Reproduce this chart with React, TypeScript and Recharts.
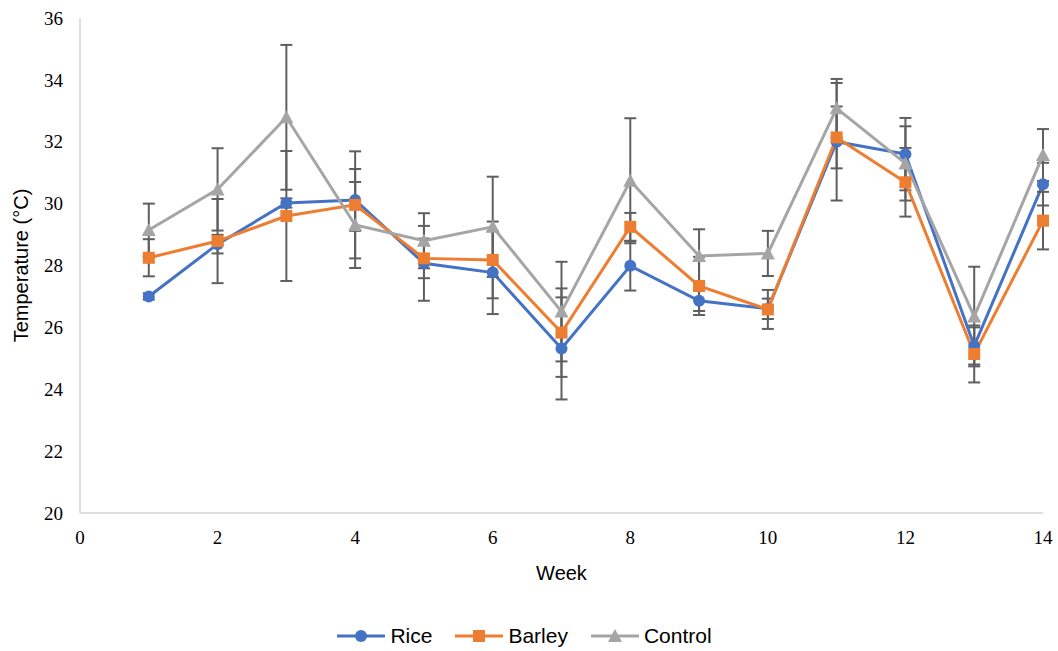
import { LineChart, Line, XAxis, YAxis, Legend, ErrorBar } from 'recharts';

const weeks = [1, 2, 3, 4, 5, 6, 7, 8, 9, 10, 11, 12, 13, 14];

const rice = [27.0, 28.69, 30.02, 30.12, 28.07, 27.77, 25.32, 27.99, 26.86, 26.6, 32.0, 31.6, 25.4, 30.63];
const riceErr = [0.1, 0.3, 0.15, 1.0, 1.21, 1.34, 1.65, 0.8, 0.33, 0.33, 1.9, 1.17, 0.6, 0.69];

const barley = [28.25, 28.79, 29.6, 29.96, 28.23, 28.18, 25.83, 29.25, 27.34, 26.58, 32.14, 30.69, 25.14, 29.45];
const barleyErr = [0.6, 1.36, 2.1, 1.73, 0.64, 1.24, 1.43, 0.45, 0.94, 0.63, 1.0, 1.11, 0.92, 0.93];

const control = [29.15, 30.46, 32.79, 29.31, 28.8, 29.25, 26.51, 30.74, 28.31, 28.39, 33.08, 31.3, 26.35, 31.57];
const controlErr = [0.85, 1.33, 2.34, 1.39, 0.89, 1.62, 1.61, 2.02, 0.86, 0.73, 0.95, 1.2, 1.61, 0.84];

const xTicks = [0, 2, 4, 6, 8, 10, 12, 14];
const yTicks = [20, 22, 24, 26, 28, 30, 32, 34, 36];

const data = weeks.map((w, i) => ({
  week: w,
  rice: rice[i],
  riceErr: riceErr[i],
  barley: barley[i],
  barleyErr: barleyErr[i],
  control: control[i],
  controlErr: controlErr[i],
}));

const BLUE = '#4472C4';
const ORANGE = '#ED7D31';
const GRAY = '#A5A5A5';
const ERR = '#5F5F5F';
const SANS = '"Liberation Sans", Arial, sans-serif';
const SERIF = '"Liberation Serif", "Times New Roman", serif';

type Shape = 'circle' | 'square' | 'triangle';

function marker(shape: Shape, cx: number, cy: number, color: string, key?: string) {
  if (shape === 'circle') return <circle key={key} cx={cx} cy={cy} r={6} fill={color} />;
  if (shape === 'square') return <rect key={key} x={cx - 6} y={cy - 6} width={12} height={12} fill={color} />;
  return <polygon key={key} points={`${cx},${cy - 7} ${cx + 7},${cy + 6} ${cx - 7},${cy + 6}`} fill={color} />;
}

const makeDot = (shape: Shape, color: string) => (props: any) =>
  marker(shape, props.cx, props.cy, color, `${shape}-${props.index}`);

const legendItems: { name: string; color: string; shape: Shape }[] = [
  { name: 'Rice', color: BLUE, shape: 'circle' },
  { name: 'Barley', color: ORANGE, shape: 'square' },
  { name: 'Control', color: GRAY, shape: 'triangle' },
];

function LegendContent() {
  return (
    <div
      style={{
        display: 'flex',
        justifyContent: 'center',
        alignItems: 'center',
        gap: 23,
        height: 36,
        paddingTop: 6,
        paddingLeft: 6,
        boxSizing: 'border-box',
        fontFamily: SANS,
        fontSize: 21,
        color: '#000',
      }}
    >
      {legendItems.map((it) => (
        <div key={it.name} style={{ display: 'flex', alignItems: 'center' }}>
          <svg width={48} height={16} style={{ marginRight: 5 }}>
            <line x1={0} y1={8} x2={48} y2={8} stroke={it.color} strokeWidth={3} />
            {marker(it.shape, 24, 8, it.color)}
          </svg>
          <span>{it.name}</span>
        </div>
      ))}
    </div>
  );
}

export default function App() {
  return (
    <div style={{ position: 'absolute', left: 0, top: 0, background: '#fff' }}>
      <LineChart width={1058} height={651} data={data} margin={{ top: 18, right: 15, left: 0, bottom: 0 }}>
        <XAxis
          dataKey="week"
          type="number"
          domain={[0, 14]}
          ticks={xTicks}
          height={102}
          tickLine={false}
          tickMargin={12}
          axisLine={{ stroke: '#BFBFBF', strokeWidth: 1 }}
          tick={{ fontFamily: SERIF, fontSize: 19, fill: '#000' }}
          label={{ value: 'Week', position: 'insideTop', offset: 53, style: { fontFamily: SANS, fontSize: 20, fill: '#000' } }}
        />
        <YAxis
          type="number"
          domain={[20, 36]}
          ticks={yTicks}
          width={80}
          tickLine={false}
          tickMargin={11}
          axisLine={{ stroke: '#BFBFBF', strokeWidth: 1 }}
          tick={{ fontFamily: SERIF, fontSize: 19, fill: '#000' }}
          label={{
            value: 'Temperature (°C)',
            angle: -90,
            position: 'insideLeft',
            offset: 21,
            style: { textAnchor: 'middle', fontFamily: SANS, fontSize: 20, fill: '#000' },
          }}
        />
        <Legend verticalAlign="bottom" height={36} content={<LegendContent />} />
        <Line
          dataKey="rice"
          name="Rice"
          stroke={BLUE}
          strokeWidth={3}
          dot={makeDot('circle', BLUE)}
          activeDot={false}
          isAnimationActive={false}
        >
          <ErrorBar dataKey="riceErr" direction="y" width={6} stroke={ERR} strokeWidth={2} />
        </Line>
        <Line
          dataKey="barley"
          name="Barley"
          stroke={ORANGE}
          strokeWidth={3}
          dot={makeDot('square', ORANGE)}
          activeDot={false}
          isAnimationActive={false}
        >
          <ErrorBar dataKey="barleyErr" direction="y" width={6} stroke={ERR} strokeWidth={2} />
        </Line>
        <Line
          dataKey="control"
          name="Control"
          stroke={GRAY}
          strokeWidth={3}
          dot={makeDot('triangle', GRAY)}
          activeDot={false}
          isAnimationActive={false}
        >
          <ErrorBar dataKey="controlErr" direction="y" width={6} stroke={ERR} strokeWidth={2} />
        </Line>
      </LineChart>
    </div>
  );
}
